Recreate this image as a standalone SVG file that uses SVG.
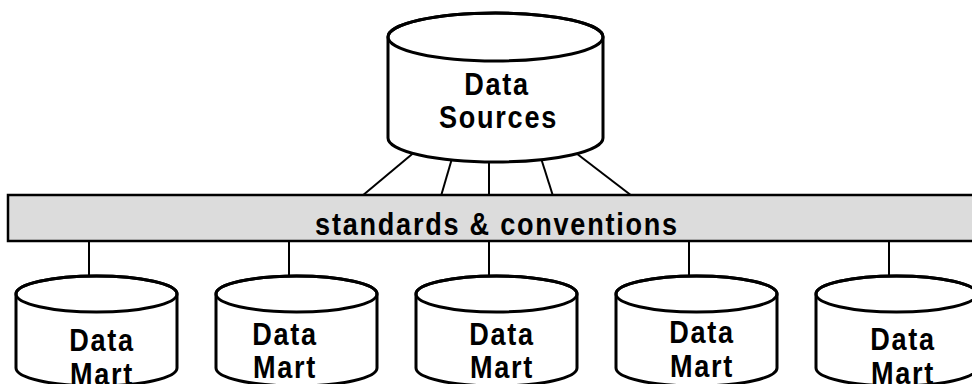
<svg xmlns="http://www.w3.org/2000/svg" width="972" height="384" viewBox="0 0 972 384">
  <style>
    .link { stroke: #000; stroke-width: 2; fill: none; }
    .drum { fill: #fff; stroke: #000; stroke-width: 3; }
    .lid { fill: none; stroke: #000; stroke-width: 3; }
    .bar { fill: #dcdcdc; stroke: #000; stroke-width: 2.5; }
    .lbl { font-family: "Liberation Sans", Arial, sans-serif; font-weight: bold; font-size: 31px; letter-spacing: 2px; text-anchor: middle; fill: #000; }
  </style>

  <!-- connectors: source fan-in and mart drops -->
  <g id="connectors">
    <line class="link" x1="417" y1="150" x2="362" y2="196"/>
    <line class="link" x1="453" y1="155" x2="441" y2="196"/>
    <line class="link" x1="489" y1="155" x2="489" y2="196"/>
    <line class="link" x1="540" y1="155" x2="553" y2="196"/>
    <line class="link" x1="572" y1="150" x2="632" y2="196"/>
    <line class="link" x1="89" y1="241" x2="89" y2="280"/>
    <line class="link" x1="289" y1="241" x2="289" y2="280"/>
    <line class="link" x1="489" y1="241" x2="489" y2="280"/>
    <line class="link" x1="689" y1="241" x2="689" y2="280"/>
    <line class="link" x1="889" y1="241" x2="889" y2="280"/>
  </g>

  <!-- shared layer -->
  <g id="standards">
    <rect class="bar" x="8" y="195" width="980" height="46"/>
    <text class="lbl" transform="translate(497 235) scale(0.874 1)">standards &amp; conventions</text>
  </g>

  <!-- central source store -->
  <g id="data-sources">
    <path class="drum" d="M388,37 L388,138 A107.5,24 0 0 0 603,138 L603,37 A107.5,24 0 0 0 388,37 Z"/>
    <ellipse class="lid" cx="495.5" cy="37" rx="107.5" ry="24"/>
    <text class="lbl" transform="translate(497 95) scale(0.874 1)">Data</text>
    <text class="lbl" transform="translate(498.5 128) scale(0.874 1)">Sources</text>
  </g>

  <!-- data marts -->
  <g id="mart-1">
    <path class="drum" d="M16,294 L16,368 A80.5,18 0 0 0 177,368 L177,294 A80.5,18 0 0 0 16,294 Z"/>
    <ellipse class="lid" cx="96.5" cy="294" rx="80.5" ry="18"/>
    <text class="lbl" transform="translate(102 351) scale(0.874 1)">Data</text>
    <text class="lbl" transform="translate(102 385) scale(0.874 1)">Mart</text>
  </g>
  <g id="mart-2">
    <path class="drum" d="M216,294 L216,368 A80.5,18 0 0 0 377,368 L377,294 A80.5,18 0 0 0 216,294 Z"/>
    <ellipse class="lid" cx="296.5" cy="294" rx="80.5" ry="18"/>
    <text class="lbl" transform="translate(285 345) scale(0.874 1)">Data</text>
    <text class="lbl" transform="translate(285 378) scale(0.874 1)">Mart</text>
  </g>
  <g id="mart-3">
    <path class="drum" d="M416,294 L416,368 A80.5,18 0 0 0 577,368 L577,294 A80.5,18 0 0 0 416,294 Z"/>
    <ellipse class="lid" cx="496.5" cy="294" rx="80.5" ry="18"/>
    <text class="lbl" transform="translate(502 345) scale(0.874 1)">Data</text>
    <text class="lbl" transform="translate(502 378) scale(0.874 1)">Mart</text>
  </g>
  <g id="mart-4">
    <path class="drum" d="M616,294 L616,368 A80.5,18 0 0 0 777,368 L777,294 A80.5,18 0 0 0 616,294 Z"/>
    <ellipse class="lid" cx="696.5" cy="294" rx="80.5" ry="18"/>
    <text class="lbl" transform="translate(702 343) scale(0.874 1)">Data</text>
    <text class="lbl" transform="translate(702 377) scale(0.874 1)">Mart</text>
  </g>
  <g id="mart-5">
    <path class="drum" d="M816,294 L816,368 A80.5,18 0 0 0 977,368 L977,294 A80.5,18 0 0 0 816,294 Z"/>
    <ellipse class="lid" cx="896.5" cy="294" rx="80.5" ry="18"/>
    <text class="lbl" transform="translate(903 350) scale(0.874 1)">Data</text>
    <text class="lbl" transform="translate(903 384) scale(0.874 1)">Mart</text>
  </g>
</svg>
